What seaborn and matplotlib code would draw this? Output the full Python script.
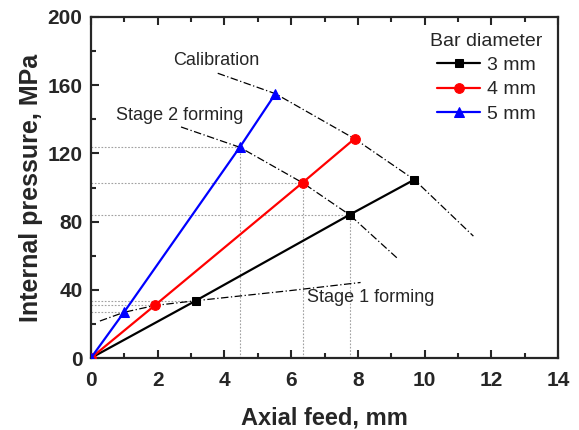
import matplotlib
matplotlib.use("Agg")
import matplotlib.pyplot as plt
import seaborn as sns
import pandas as pd
from matplotlib.ticker import MultipleLocator

sns.set_style("ticks")
plt.rcParams['font.family'] = ['Liberation Sans', 'DejaVu Sans']

# Data
feed_3mm = [0, 3.14, 7.75, 9.69]
pres_3mm = [0, 33.6, 84.0, 104.6]
feed_4mm = [0, 1.91, 6.34, 7.90]
pres_4mm = [0, 30.8, 102.8, 128.6]
feed_5mm = [0, 0.99, 4.46, 5.53]
pres_5mm = [0, 26.8, 123.6, 155.0]

calib_x = [3.8, 5.53, 7.90, 9.69, 11.46]
calib_y = [167, 155.0, 128.6, 104.6, 71.5]
stage2_x = [2.7, 4.46, 6.34, 7.75, 9.21]
stage2_y = [135.5, 123.6, 102.8, 84.0, 58.0]
stage1_x = [0.27, 0.99, 1.91, 3.14, 6.0, 8.08]
stage1_y = [21.7, 26.8, 30.8, 33.6, 39.6, 44.3]

fig = plt.figure(figsize=(5.79, 4.30), dpi=100)
ax = fig.add_axes([0.157, 0.1674, 0.807, 0.7931])

# guide lines
guide = dict(color='#a0a0a0', linestyle=(0, (1.5, 1.5)), lw=0.8, zorder=1)
for xs, ys in [(feed_3mm, pres_3mm), (feed_4mm, pres_4mm), (feed_5mm, pres_5mm)]:
    for i in (1, 2):
        ax.plot([0, xs[i]], [ys[i], ys[i]], **guide)
    ax.plot([xs[2], xs[2]], [0, ys[2]], **guide)

# stage curves
curve = dict(color='black', linestyle=(0, (6, 2, 1, 2)), lw=0.9, zorder=2)
ax.plot(calib_x, calib_y, **curve)
ax.plot(stage2_x, stage2_y, **curve)
ax.plot(stage1_x, stage1_y, **curve)

series = [
    ("3 mm", feed_3mm, pres_3mm, 'black', 's', 6),
    ("4 mm", feed_4mm, pres_4mm, 'red', 'o', 7),
    ("5 mm", feed_5mm, pres_5mm, 'blue', '^', 7.5),
]
for label, xs, ys, c, m, ms in series:
    df = pd.DataFrame({'x': xs, 'y': ys})
    sns.lineplot(data=df, x='x', y='y', ax=ax, color=c, marker=m, markersize=ms,
                 markeredgecolor=c, lw=1.6, label=label, zorder=3, sort=False)

ax.text(2.45, 174.5, "Calibration", fontsize=13, va='center', ha='left')
ax.text(0.75, 142.5, "Stage 2 forming", fontsize=13, va='center', ha='left')
ax.text(6.46, 35.5, "Stage 1 forming", fontsize=13, va='center', ha='left')

ax.set_xlim(0, 14)
ax.set_ylim(0, 200)
ax.xaxis.set_major_locator(MultipleLocator(2))
ax.xaxis.set_minor_locator(MultipleLocator(1))
ax.yaxis.set_major_locator(MultipleLocator(40))
ax.yaxis.set_minor_locator(MultipleLocator(20))
ax.tick_params(which='both', direction='in', top=True, right=False, width=1.5)
ax.tick_params(which='major', length=6, labelsize=15)
ax.tick_params(axis='x', which='major', pad=9)
ax.tick_params(axis='y', which='major', pad=6)
ax.tick_params(which='minor', length=3.5)
for lab in ax.get_xticklabels() + ax.get_yticklabels():
    lab.set_fontweight('bold')
for s in ax.spines.values():
    s.set_linewidth(1.6)
    s.set_visible(True)

ax.set_xlabel("Axial feed, mm", fontsize=17, fontweight='bold', labelpad=12)
ax.set_ylabel("Internal pressure, MPa", fontsize=18, fontweight='bold', labelpad=3)

leg = ax.legend(title="Bar diameter", loc='upper right', frameon=False, fontsize=14,
                title_fontsize=14, handlelength=2.2, borderaxespad=0.4, labelspacing=0.35,
                handletextpad=0.35)

fig.savefig("out.png", dpi=100)
